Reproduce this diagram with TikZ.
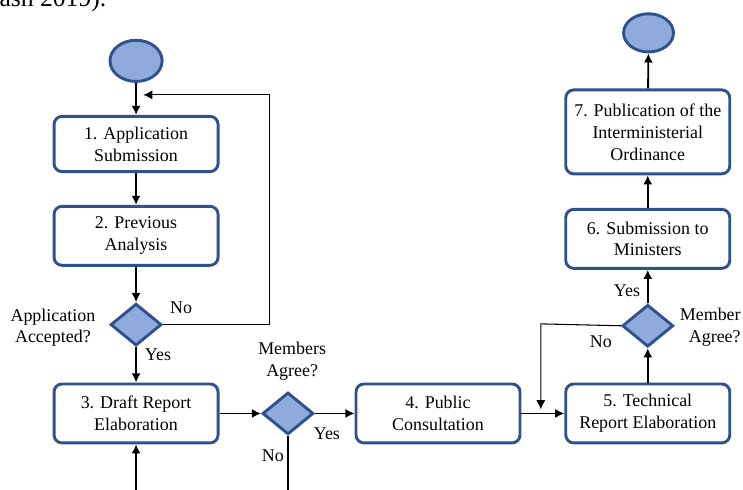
\documentclass[tikz,border=0pt]{standalone}
\usepackage{fontspec}
\setmainfont{Liberation Serif}
\usetikzlibrary{arrows.meta,shapes.geometric,positioning}
\definecolor{frameblue}{RGB}{47,82,143}
\definecolor{fillblue}{RGB}{143,170,220}

\begin{document}
\begin{tikzpicture}[
  font=\fontsize{13.5}{16.5}\selectfont,
  stage/.style={rectangle,draw=frameblue,fill=white,line width=2.2pt,
    rounded corners=6pt,align=center,minimum width=4.34cm,
    minimum height=1.56cm,inner sep=2pt},
  terminal/.style={ellipse,draw=frameblue,fill=fillblue,line width=2.2pt,
    minimum width=1.38cm,minimum height=1.09cm,inner sep=0pt},
  check/.style={diamond,draw=frameblue,fill=fillblue,line width=2.2pt,
    minimum width=1.35cm,minimum height=1.11cm,inner sep=0pt},
  flow/.style={-{Latex[length=2.4mm,width=2.4mm]},line width=1.4pt},
  backflow/.style={-{Latex[length=2.4mm,width=2.4mm]},line width=0.8pt},
  tag/.style={inner sep=1pt,align=center}
]
\useasboundingbox (0,0) rectangle (19.66,12.96);
\node[anchor=base west,inner sep=0pt,font=\fontsize{19.3}{23}\selectfont]
  (captionTail) at (-0.02,12.78) {ash 2019).};
\node[terminal] (start) at (3.60,11.35) {};
\node[stage,minimum height=1.46cm] (apply) at (3.60,9.15)
  {1. Application\\Submission};
\node[stage] (analysis) at (3.60,6.72) {2. Previous\\Analysis};
\node[check] (accepted) at (3.60,4.37) {};
\node[stage] (draft) at (3.60,2.02) {3. Draft Report\\Elaboration};
\node[check] (agree) at (7.62,2.02) {};
\node[stage] (consult) at (11.59,2.02) {4. Public\\Consultation};
\node[stage] (technical) at (17.14,2.02) {5. Technical\\Report Elaboration};
\node[check] (approve) at (17.14,4.34) {};
\node[stage] (ministers) at (17.14,6.64) {6. Submission to\\Ministers};
\node[stage,minimum height=2.22cm] (ordinance) at (17.14,9.47)
  {7. Publication of the\\Interministerial\\Ordinance};
\node[terminal,minimum width=1.32cm,minimum height=1.01cm] (finish)
  at (17.16,12.09) {};
\draw[flow] (start) -- (apply);
\draw[flow] (apply) -- (analysis);
\draw[flow] (analysis) -- (accepted);
\draw[flow] (accepted) -- (draft);
\draw[flow] (draft) -- (agree);
\draw[flow] (agree) -- (consult);
\draw[flow] (consult) -- (technical);
\draw[flow] (technical) -- (approve);
\draw[flow] (approve) -- (ministers);
\draw[flow] (ministers) -- (ordinance);
\draw[flow] (ordinance) -- (finish);
\coordinate (retryTop) at (7.14,10.45);
\coordinate (retryIn) at (3.79,10.45);
\draw[backflow] (accepted.east) -| (retryTop) -- (retryIn);
\coordinate (reviewCorner) at (14.31,4.39);
\coordinate (reviewIn) at (14.31,2.13);
\draw[backflow] (approve.west) -- (reviewCorner) -- (reviewIn);
\coordinate (draftFeed) at (3.60,0);
\draw[flow,line width=1pt] (draftFeed) -- (draft);
\coordinate (agreeExit) at (7.62,0);
\draw[line width=1pt] (agree) -- (agreeExit);
\node[tag] (noRetry) at (4.79,4.82) {No};
\node[tag] (acceptedQ) at (1.40,4.29) {Application\\Accepted?};
\node[tag] (yesDraft) at (4.18,3.57) {Yes};
\node[tag] (agreeQ) at (7.73,3.41) {Members\\Agree?};
\node[tag] (noAgree) at (7.22,0.90) {No};
\node[tag] (yesAgree) at (8.65,1.48) {Yes};
\node[tag] (noApprove) at (15.90,3.92) {No};
\node[tag,align=right,anchor=east] (approveQ) at (19.64,4.31)
  {Member\\Agree?};
\node[tag] (yesApprove) at (16.59,5.27) {Yes};
\end{tikzpicture}
\end{document}
